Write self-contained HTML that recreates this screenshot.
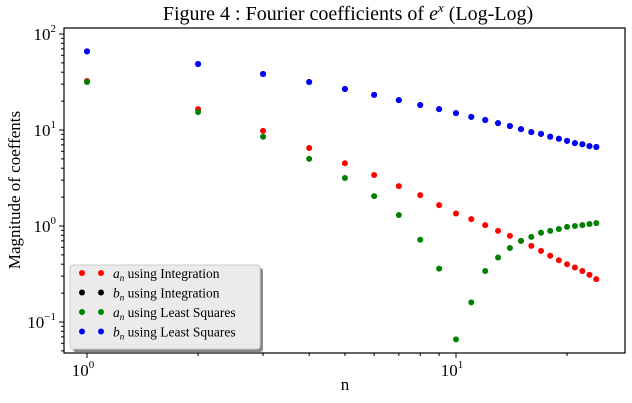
<!DOCTYPE html>
<html><head><meta charset="utf-8">
<style>
body{margin:0;background:#fff;}
svg{display:block;font-family:"Liberation Serif","DejaVu Serif",serif;}
</style></head>
<body>
<svg id="chart" width="632" height="403">
</svg>
<script>
const ns='http://www.w3.org/2000/svg';
const nVals=[1,2,3,4,5,6,7,8,9,10,11,12,13,14,15,16,17,18,19,20,21,22,23,24];
const anInt=[32.4,16.5,9.8,6.5,4.5,3.4,2.6,2.1,1.65,1.35,1.18,1.02,0.89,0.79,0.70,0.62,0.55,0.49,0.44,0.40,0.37,0.34,0.31,0.28];
const bnInt=[66,48.7,38.3,31.6,26.7,23.2,20.5,18.2,16.5,15.0,13.7,12.7,11.8,11.0,10.2,9.5,9.1,8.5,8.1,7.7,7.3,7.1,6.8,6.65];
const anLS=[31.6,15.4,8.5,5.0,3.16,2.05,1.3,0.72,0.36,0.066,0.16,0.34,0.47,0.59,0.70,0.77,0.85,0.89,0.93,0.98,1.0,1.02,1.05,1.07];
const bnLS=[66,48.7,38.3,31.6,26.7,23.2,20.5,18.2,16.5,15.0,13.7,12.7,11.8,11.0,10.2,9.5,9.1,8.5,8.1,7.7,7.3,7.1,6.8,6.65];
const xTickExps=[0,1];
const yTickExps=[-1,0,1,2];
const L=64,R=625,T=28,B=353;
function xs(v){return 87+369*Math.log10(v);}
function ys(v){return 226-96*Math.log10(v);}
const svg=document.getElementById('chart');
function mk(tag,attrs,parent){const e=document.createElementNS(ns,tag);for(const k in attrs)e.setAttribute(k,attrs[k]);(parent||svg).appendChild(e);return e;}
let t=mk('text',{x:348,y:20,'text-anchor':'middle','font-size':20});

t.innerHTML='Figure 4 : Fourier coefficients of <tspan font-style="italic">e</tspan><tspan font-style="italic" font-size="13" dy="-8">x</tspan><tspan dy="8"> (Log-Log)</tspan>';
let box=mk('rect',{x:L,y:T,width:R-L,height:B-T,fill:'none',stroke:'#000','stroke-width':1.2});

const xg=mk('g',{});
xTickExps.forEach(e=>{const x=xs(Math.pow(10,e));mk('line',{x1:x,x2:x,y1:B,y2:B+5,stroke:'#000'},xg);
 const tx=mk('text',{x:x-4,y:B+23,'text-anchor':'middle','font-size':17},xg);
 tx.innerHTML='10<tspan font-size="11" dy="-8">'+e+'</tspan>';});
for(let d=0;d<2;d++)for(let m=2;m<10;m++){const v=m*Math.pow(10,d);const x=xs(v);if(x>L&&x<R)mk('line',{x1:x,x2:x,y1:B,y2:B+3,stroke:'#000'},xg);}
const xl=mk('text',{x:345,y:390,'text-anchor':'middle','font-size':17});xl.textContent='n';

const yg=mk('g',{});
yTickExps.forEach(e=>{const y=ys(Math.pow(10,e));mk('line',{x1:L-5,x2:L,y1:y,y2:y,stroke:'#000'},yg);
 const tx=mk('text',{x:L-8,y:y+6,'text-anchor':'end','font-size':17},yg);
 tx.innerHTML='10<tspan font-size="11" dy="-8">'+(e<0?'\u2212'+(-e):e)+'</tspan>';});
for(let d=-2;d<2;d++)for(let m=2;m<10;m++){const y=ys(m*Math.pow(10,d));if(y>T&&y<B)mk('line',{x1:L-3,x2:L,y1:y,y2:y,stroke:'#000'},yg);}
const yl=mk('text',{x:20,y:190,'text-anchor':'middle','font-size':17,transform:'rotate(-90 20 190)'});yl.textContent='Magnitude of coeffents';

function series(vals,color,name){const g=mk('g',{});
 vals.forEach((v,i)=>{const c=mk('circle',{cx:xs(nVals[i]),cy:ys(v),r:3,fill:color},g);});}
series(anInt,'#ff0000','series-an-integration');
series(bnInt,'#000000','series-bn-integration');
series(anLS,'#008000','series-an-least-squares');
series(bnLS,'#0000ff','series-bn-least-squares');
const lg=mk('g',{});
mk('rect',{x:73,y:268,width:190,height:84,rx:3,fill:'#888'},lg);
mk('rect',{x:70,y:265,width:190,height:84,rx:3,fill:'#ebebeb',stroke:'#ccc'},lg);
const labs=[['a','Integration','#ff0000'],['b','Integration','#000000'],['a','Least Squares','#008000'],['b','Least Squares','#0000ff']];
labs.forEach((l,i)=>{const y=273+i*19.5;const eg=mk('g',{},lg);
 mk('circle',{cx:82,cy:y,r:3,fill:l[2]},eg);mk('circle',{cx:101,cy:y,r:3,fill:l[2]},eg);
 const tx=mk('text',{x:113,y:y+5,'font-size':13.5},eg);
 tx.innerHTML='<tspan font-style="italic">'+l[0]+'</tspan><tspan font-style="italic" font-size="9" dy="3">n</tspan><tspan dy="-3"> using '+l[1]+'</tspan>';});
</script>
</body></html>
